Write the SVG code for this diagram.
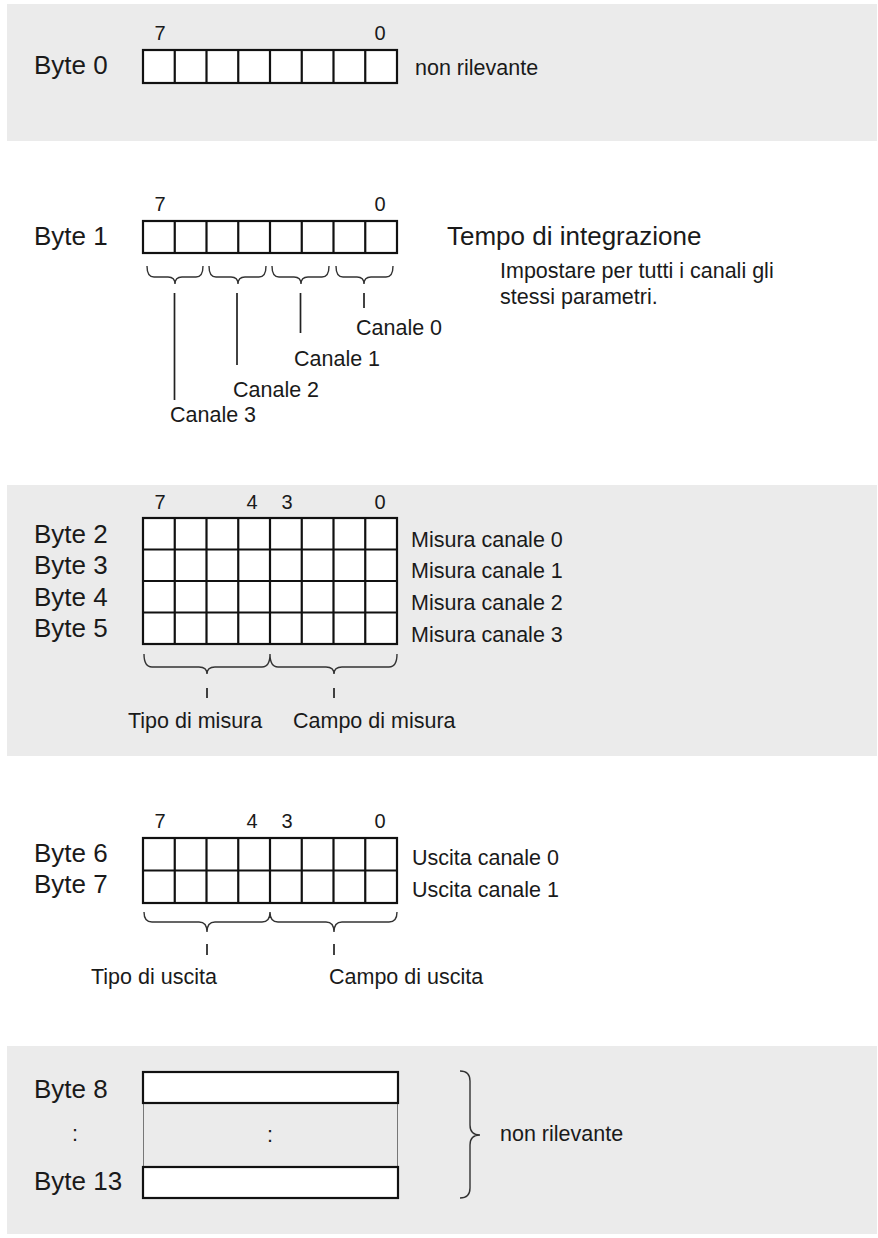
<svg xmlns="http://www.w3.org/2000/svg" width="878" height="1238" viewBox="0 0 878 1238">
<style>
.bg{fill:#ebebeb}
.cell{fill:#fff;stroke:#111;stroke-width:2.2}
.grid{fill:none;stroke:#111;stroke-width:2.2}
.thin{fill:none;stroke:#777;stroke-width:1}
.br{fill:none;stroke:#333;stroke-width:1.4}
.ln{fill:none;stroke:#222;stroke-width:1.7}
text{font-family:"Liberation Sans",Arial,sans-serif;fill:#1a1a1a}
.big{font-size:26px}
.sm{font-size:21.5px}
.bit{font-size:20px;text-anchor:middle}
</style>
<rect width="878" height="1238" fill="#fff"/>
<g id="panels">
<rect class="bg" x="7" y="4" width="870" height="137"/>
<rect class="bg" x="7" y="485" width="870" height="271"/>
<rect class="bg" x="7" y="1046" width="870" height="188"/>
</g>
<g id="byte0">
<text class="big" x="34" y="74">Byte 0</text>
<text class="bit" x="160" y="40">7</text>
<text class="bit" x="380" y="40">0</text>
<rect class="cell" x="143" y="50" width="254" height="33"/>
<path class="grid" d="M174.75,50V83M206.5,50V83M238.25,50V83M270,50V83M301.75,50V83M333.5,50V83M365.25,50V83"/>
<text class="sm" x="415" y="75">non rilevante</text>
</g>
<g id="byte1">
<text class="big" x="34" y="245">Byte 1</text>
<text class="bit" x="160" y="211">7</text>
<text class="bit" x="380" y="211">0</text>
<rect class="cell" x="143" y="221" width="254" height="32"/>
<path class="grid" d="M174.75,221V253M206.5,221V253M238.25,221V253M270,221V253M301.75,221V253M333.5,221V253M365.25,221V253"/>
<text class="big" x="447" y="245">Tempo di integrazione</text>
<text class="sm" x="500" y="278">Impostare per tutti i canali gli</text>
<text class="sm" x="500" y="304">stessi parametri.</text>
<text class="sm" x="356" y="335">Canale 0</text>
<text class="sm" x="294" y="366">Canale 1</text>
<text class="sm" x="233" y="397">Canale 2</text>
<text class="sm" x="170" y="422">Canale 3</text>
</g>
<g id="byte2-5">
<text class="big" x="34" y="543">Byte 2</text>
<text class="big" x="34" y="574">Byte 3</text>
<text class="big" x="34" y="606">Byte 4</text>
<text class="big" x="34" y="637">Byte 5</text>
<text class="bit" x="160" y="509">7</text>
<text class="bit" x="252" y="509">4</text>
<text class="bit" x="287" y="509">3</text>
<text class="bit" x="380" y="509">0</text>
<rect class="cell" x="143" y="518" width="254" height="126"/>
<path class="grid" d="M174.75,518V644M206.5,518V644M238.25,518V644M270,518V644M301.75,518V644M333.5,518V644M365.25,518V644M143,549.5H397M143,581H397M143,612.5H397"/>
<text class="sm" x="411" y="547">Misura canale 0</text>
<text class="sm" x="411" y="578">Misura canale 1</text>
<text class="sm" x="411" y="610">Misura canale 2</text>
<text class="sm" x="411" y="642">Misura canale 3</text>
<text class="sm" x="128" y="728">Tipo di misura</text>
<text class="sm" x="293" y="728">Campo di misura</text>
</g>
<g id="byte6-7">
<text class="big" x="34" y="862">Byte 6</text>
<text class="big" x="34" y="893">Byte 7</text>
<text class="bit" x="160" y="828">7</text>
<text class="bit" x="252" y="828">4</text>
<text class="bit" x="287" y="828">3</text>
<text class="bit" x="380" y="828">0</text>
<rect class="cell" x="143" y="838" width="254" height="65"/>
<path class="grid" d="M174.75,838V903M206.5,838V903M238.25,838V903M270,838V903M301.75,838V903M333.5,838V903M365.25,838V903M143,870.5H397"/>
<text class="sm" x="412" y="865">Uscita canale 0</text>
<text class="sm" x="412" y="897">Uscita canale 1</text>
<text class="sm" x="91" y="984">Tipo di uscita</text>
<text class="sm" x="329" y="984">Campo di uscita</text>
</g>
<g id="byte8-13">
<text class="big" x="34" y="1098">Byte 8</text>
<text class="sm" x="72" y="1141">:</text>
<text class="big" x="34" y="1190">Byte 13</text>
<path class="thin" d="M143.5,1103V1167M397.5,1103V1167"/>
<rect class="cell" x="143" y="1072" width="255" height="31"/>
<rect class="cell" x="143" y="1167" width="255" height="31"/>
<text class="sm" x="267" y="1142">:</text>
<text class="sm" x="500" y="1141">non rilevante</text>
</g>
<g id="connectors">
<path class="br" d="M147,266Q147,277 154,277L168,277Q175,277 175,284Q175,277 182,277L196,277Q203,277 203,266"/>
<path class="br" d="M209,266Q209,277 216,277L231,277Q238,277 238,284Q238,277 245,277L259,277Q266,277 266,266"/>
<path class="br" d="M272,266Q272,277 279,277L294,277Q301,277 301,284Q301,277 308,277L322,277Q329,277 329,266"/>
<path class="br" d="M336,266Q336,277 343,277L357,277Q364,277 364,284Q364,277 371,277L386,277Q393,277 393,266"/>
<path class="ln" d="M174.5,293V400M237,293V365M300.5,293V333M364,293V308"/>
<path class="br" d="M144,654Q144,667 152,667L199,667Q207,667 207,674Q207,667 215,667L262,667Q270,667 270,654Q270,667 278,667L326,667Q334,667 334,674Q334,667 342,667L389,667Q397,667 397,654"/>
<path class="ln" d="M207,688V698M334,688V698"/>
<path class="br" d="M144,912Q144,922 152,922L199,922Q207,922 207,932Q207,922 215,922L262,922Q270,922 270,912Q270,922 278,922L326,922Q334,922 334,932Q334,922 342,922L389,922Q397,922 397,912"/>
<path class="ln" d="M207,944V955M334,944V955"/>
<path class="br" d="M460,1071Q470,1071 470,1081L470,1125Q470,1135 480,1135Q470,1135 470,1145L470,1188Q470,1198 460,1198"/>
</g>
</svg>
